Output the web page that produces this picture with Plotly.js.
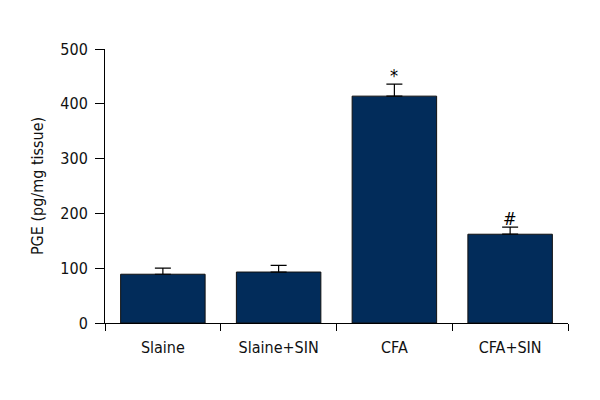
<!DOCTYPE html>
<html>
<head>
<meta charset="utf-8">
<script src="https://cdn.plot.ly/plotly-3.0.1.min.js"></script>
<style>body{margin:0;background:#fff}</style>
</head>
<body>
<div id="plotly-chart" style="width:600px;height:400px"></div>
<script>
var groups = ['Slaine', 'Slaine+SIN', 'CFA', 'CFA+SIN'];
var pge = [89, 93, 414, 162];
var sem = [11, 12, 22, 13];
var marks = ['', '', '*', '#'];

var font = '"Liberation Sans Narrow", "DejaVu Sans Condensed", sans-serif';

var notes = [];
for (var i = 0; i < groups.length; i++) {
    if (!marks[i]) continue;
    notes.push({
        x: groups[i], y: pge[i] + sem[i], text: marks[i],
        showarrow: false, yanchor: 'bottom', yshift: -4,
        font: { family: font, size: 18, color: '#000' }
    });
}

var layout = {
    width: 600, height: 400,
    margin: { l: 105, r: 32, t: 49, b: 77 },
    paper_bgcolor: '#fff', plot_bgcolor: '#fff',
    showlegend: false,
    bargap: 0.27,
    font: { family: font, size: 16, color: '#111' },
    xaxis: {
        type: 'category', range: [-0.5, 3.5],
        showline: true, linecolor: '#000', linewidth: 1,
        ticks: 'outside', tickson: 'boundaries', ticklen: 7, tickcolor: '#000',
        showgrid: false, zeroline: false,
        ticklabelstandoff: 10,
        tickfont: { size: 16 }
    },
    yaxis: {
        range: [0, 500], dtick: 100,
        showline: true, linecolor: '#000', linewidth: 1,
        ticks: 'outside', ticklen: 9, tickcolor: '#000',
        showgrid: false, zeroline: false,
        ticklabelstandoff: 4,
        tickfont: { size: 16 },
        title: { text: 'PGE (pg/mg tissue)', font: { size: 16 }, standoff: 12 }
    },
    annotations: notes
};

Plotly.newPlot('plotly-chart', [{
    x: groups, y: pge, type: 'bar',
    marker: { color: '#022c5a', line: { color: '#111', width: 1 } },
    error_y: { type: 'data', array: sem, arrayminus: sem.map(function () { return 0; }),
        symmetric: false, color: '#000', thickness: 1.2, width: 8 }
}], layout, { staticPlot: true });
</script>
</body>
</html>
